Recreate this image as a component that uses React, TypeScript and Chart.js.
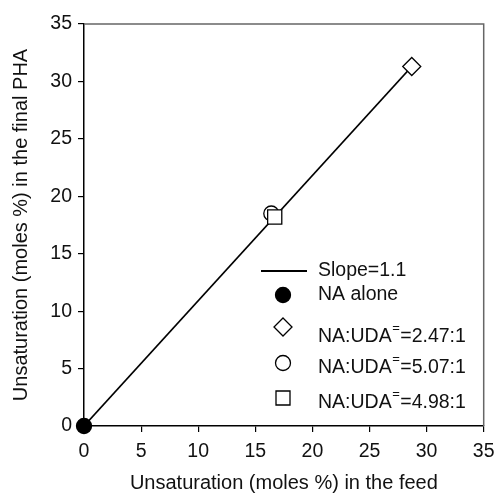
import React, { useEffect, useRef } from "react";
import { Chart, registerables } from "chart.js";

Chart.register(...registerables);

const xTitle = "Unsaturation (moles %) in the feed";
const yTitle = "Unsaturation (moles %) in the final PHA";
const axisMin = 0;
const axisMax = 35;
const axisStep = 5;

const slopeLabel = "Slope=1.1";
const slopeLineX = [0, 28.7];
const slopeLineY = [0, 31.3];

const seriesLabels = ["NA alone", "NA:UDA⁼=2.47:1", "NA:UDA⁼=5.07:1", "NA:UDA⁼=4.98:1"];
const seriesX = [0, 28.7, 16.4, 16.7];
const seriesY = [0, 31.3, 18.5, 18.2];

const FONT = "'Liberation Sans', Arial, Helvetica, sans-serif";
const FS = 19.5;
const TITLE_FS = 20;

function drawMarker(ctx: CanvasRenderingContext2D, kind: number, x: number, y: number) {
  ctx.save();
  ctx.lineWidth = 1.3;
  ctx.strokeStyle = "#000";
  ctx.fillStyle = kind === 0 ? "#000" : "#fff";
  ctx.beginPath();
  if (kind === 0) {
    ctx.arc(x, y, 7.5, 0, Math.PI * 2);
  } else if (kind === 1) {
    const r = 9;
    ctx.moveTo(x, y - r);
    ctx.lineTo(x + r, y);
    ctx.lineTo(x, y + r);
    ctx.lineTo(x - r, y);
    ctx.closePath();
  } else if (kind === 2) {
    ctx.arc(x, y, 7.5, 0, Math.PI * 2);
  } else {
    ctx.rect(x - 7, y - 7, 14, 14);
  }
  ctx.fill();
  ctx.stroke();
  ctx.restore();
}

const framePlugin = {
  id: "frameAndLegend",
  afterDraw(chart: any) {
    const { ctx, chartArea } = chart;
    const { left, right, top, bottom } = chartArea;
    ctx.save();
    ctx.strokeStyle = "#666";
    ctx.lineWidth = 1.5;
    ctx.beginPath();
    ctx.moveTo(left, top);
    ctx.lineTo(right, top);
    ctx.lineTo(right, bottom);
    ctx.stroke();

    // legend
    const lx = left + 177;
    const tx = left + 234;
    ctx.strokeStyle = "#000";
    ctx.lineWidth = 1.8;
    ctx.beginPath();
    ctx.moveTo(left + 177, top + 247);
    ctx.lineTo(left + 223, top + 247);
    ctx.stroke();
    ctx.fillStyle = "#111";
    ctx.textBaseline = "middle";
    ctx.textAlign = "left";
    ctx.font = `${FS}px ${FONT}`;
    ctx.fillText(slopeLabel, tx, top + 247);

    const markerY = [271, 303, 339, 374];
    const textY = [271, 313, 344, 379];
    const mx = lx + 22;
    seriesLabels.forEach((lab, i) => {
      drawMarker(ctx, i, mx, top + markerY[i]);
      const parts = lab.split("⁼");
      let x = tx;
      ctx.fillStyle = "#111";
      ctx.font = `${FS}px ${FONT}`;
      ctx.fillText(parts[0], x, top + textY[i]);
      x += ctx.measureText(parts[0]).width;
      if (parts.length > 1) {
        ctx.font = `13px ${FONT}`;
        ctx.fillText("=", x + 0.5, top + textY[i] - 9);
        x += ctx.measureText("=").width + 1;
        ctx.font = `${FS}px ${FONT}`;
        ctx.fillText(parts[1], x, top + textY[i]);
      }
    });
    ctx.restore();
  },
};

export default function App() {
  const ref = useRef<HTMLCanvasElement | null>(null);
  useEffect(() => {
    document.body.style.margin = "0";
    const canvas = ref.current;
    if (!canvas) return;
    const pointStyles = ["circle", "rectRot", "circle", "rect"];
    const radii = [7.5, 9, 7.5, 10];
    const orders = [0, 3, 2, 1];
    const datasets: any[] = [
      {
        label: slopeLabel,
        type: "line",
        data: slopeLineX.map((x, i) => ({ x, y: slopeLineY[i] })),
        borderColor: "#000",
        borderWidth: 1.8,
        pointRadius: 0,
        showLine: true,
        fill: false,
        clip: false,
        order: 10,
      },
      ...seriesLabels.map((lab, i) => ({
        label: lab,
        data: [{ x: seriesX[i], y: seriesY[i] }],
        pointStyle: pointStyles[i],
        pointRadius: radii[i],
        pointBackgroundColor: i === 0 ? "#000" : "#fff",
        pointBorderColor: "#000",
        pointBorderWidth: 1.3,
        showLine: false,
        clip: false,
        order: orders[i],
      })),
    ];
    const tickFont = { family: FONT, size: FS };
    const titleFont = { family: FONT, size: TITLE_FS, lineHeight: 1 };
    const chart = new Chart(canvas, {
      type: "scatter",
      data: { datasets },
      options: {
        animation: false,
        responsive: false,
        maintainAspectRatio: false,
        layout: { padding: { top: 24, right: 10, left: 0, bottom: 0 } },
        plugins: { legend: { display: false }, tooltip: { enabled: false } },
        scales: {
          x: {
            type: "linear",
            min: axisMin,
            max: axisMax,
            ticks: { stepSize: axisStep, color: "#111", font: tickFont, padding: 8, maxRotation: 0 },
            grid: { display: true, drawOnChartArea: false, drawTicks: true, tickLength: 6, color: "#000", lineWidth: 1.2 },
            border: { display: true, color: "#000", width: 1.5 },
            title: { display: true, text: xTitle, color: "#111", font: titleFont, padding: { top: 0, bottom: 0 } },
            afterFit: (s: any) => { s.height = 67; s.paddingLeft = 0; s.paddingRight = 0; },
          },
          y: {
            type: "linear",
            min: axisMin,
            max: axisMax,
            ticks: { stepSize: axisStep, color: "#111", font: tickFont, padding: 6 },
            grid: { display: true, drawOnChartArea: false, drawTicks: true, tickLength: 6, color: "#000", lineWidth: 1.2 },
            border: { display: true, color: "#000", width: 1.5 },
            title: { display: true, text: yTitle, color: "#111", font: titleFont, padding: { top: 11, bottom: 0 } },
            afterFit: (s: any) => { s.width = 84; s.paddingTop = 0; s.paddingBottom = 0; },
          },
        },
      } as any,
      plugins: [framePlugin],
    });
    return () => chart.destroy();
  }, []);
  return <canvas ref={ref} width={495} height={493} style={{ display: "block" }} />;
}
